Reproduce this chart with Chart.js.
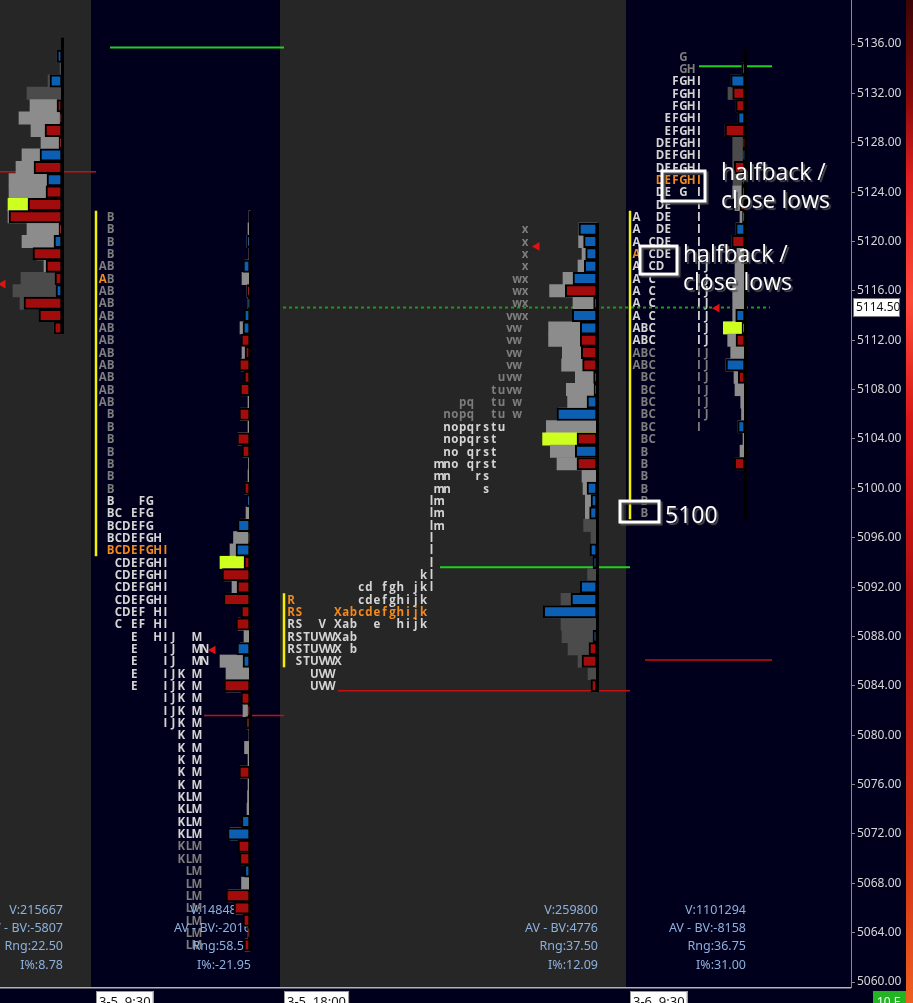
<!DOCTYPE html>
<html><head><meta charset="utf-8">
<script src="https://cdn.jsdelivr.net/npm/chart.js@4.4.1/dist/chart.umd.min.js"></script>
<style>html,body{margin:0;padding:0;background:#00001c;overflow:hidden}#wrap{width:913px;height:1003px}</style>
</head><body><div id="wrap"><canvas id="c" width="913" height="1003"></canvas></div>
<script>
// ================= DATA =================
const priceMin = 5059.6, priceMax = 5139.565, tickStep = 4;

// Session 1 (previous session – only its volume profile is visible)
const s1Top = 5135;
const s1Vol   = [5,2,14,35,32,43,31,21,40,46,53,53,54,54,35,40,25,18,41,49,42,20,8];
const s1Delta = [5,0,12,0,-5,-2,-17,-3,22,-28,15,-16,-34,-53,-3,8,-29,-16,-7,6,-38,-23,-8];
const s1Poc = 5123, s1VolVA = [5118, 5131], s1Range = [5113, 5136];
const s1Stats = ["V:215667", "AV - BV:-5807", "Rng:22.50", "I%:8.78"];

// Session 2 (3-5 9:30 RTH)
const s2Top = 5122;
const s2Letters = ["B","B","B","B","AB","AB","AB","AB","AB","AB","AB","AB","AB","AB","AB","AB",
  "B","B","B","B","B","B","B","BFG","BCEFG","BCDEFG","BCDEFGH","BCDEFGHI","CDEFGHI","CDEFGHI","CDEFGHI","CDEFGHI",
  "CDEFHI","CEFHI","EHIJM","EIJMN","EIJMN","EIJKM","EIJKM","IJKM","IJKM","IJKM","KM","KM","KM","KM","KM",
  "KLM","KLM","KLM","KLM","KLM","KLM","LM","LM","LM","LM","LM","LM","LM"];
const s2Periods = "ABCDEFGHIJKLMN";
const s2TpoVA = [5072, 5099], s2TpoPoc = 5095, s2Open = 5117, s2OpenLetter = "A";
const s2Vol   = [1,2,3,1,5,8,3,2,5,10,8,8,9,5,9,2,10,2,12,7,1.5,2,5,2,4,10,16.5,20,30,26,18,24,8,12,6,10,30,24,24,8,7,3,1,5.5,2,10,2,2.5,3,7,20,10,9,4,8.5,22,14,6,2,5];
const s2Delta = [0,0,3,0,7,0,-3,2,6,7,-9,-5,-11,-6,-10,0,-11,0,-13,-8,0,0,-6,3,0,12.5,-1.5,14,-6,-28,-13,-26.5,-9,-14,0,13,7,0,-26,-9,-2,-4,0,0,0,-11,0,0,0,8.5,22.5,-12,-10.5,5.5,0,-24,-16,-7,-2,-6];
const s2Poc = 5094, s2VolVA = [5063, 5122], s2Range = [5063, 5122];
const s2IB = [5094.5, 5122.5];
const s2Stats = ["V:1484834", "AV - BV:-2016", "Rng:58.50", "I%:-21.95"];

// Session 3 (3-5 18:00 overnight)
const s3Top = 5121;
const s3Letters = ["x","x","x","x","wx","wx","wx","vwx","vw","vw","vw","vw","uvw","tuvw","pqtuw","nopqtuw",
  "nopqrstu","nopqrst","noqrst","mnoqrst","mnrs","mns","lm","lm","lm","l","l","l","kl","cdfghjkl",
  "Rcdefghijk","RSXabcdefghijk","RSVXabehijk","RSTUVWXab","RSTUVWXb","STUVWX","UVW","UVW"];
const s3Periods = "RSTUVWXabcdefghijklmnopqrstuvwx";
const s3TpoVA = [5084, 5105], s3TpoPoc = 5090, s3Open = 5091, s3OpenLetter = "R";
const s3Vol   = [18,18.4,15,19,34,47.4,24,24.7,48.4,48.4,34.7,35.4,21.7,30.7,29.4,38,50.7,54.4,46.7,40,15,14,11.7,11.7,13.4,6,6,3.4,9.4,16.7,36,53.4,36,35,29,19,9,4];
const s3Delta = [18,13.4,11.3,12.7,24,-31.7,-3.4,24.7,16.7,-16.7,-15.7,-14.4,-3.4,-3,10,40,0,-20,21.7,-20,0,10,6,7.4,0,0,7,4,0,16.7,26,53.7,0,4,-8,-15,0,-6];
const s3Poc = 5104, s3VolVA = [5098, 5121], s3Range = [5084, 5121];
const s3IB = [5085.5, 5091.5];
const s3Stats = ["V:259800", "AV - BV:4776", "Rng:37.50", "I%:12.09"];

// Session 4 (3-6 9:30 RTH)
const s4Top = 5135;
const s4Letters = ["G","GH","FGHI","FGHI","FGHI","EFGHI","EFGHI","DEFGHI","DEFGHI","DEFGHI","DEFGHI","DEGI","DEI",
  "ADEI","ADEI","ACDEI","ACDEI","ACDIJ","ACIJ","ACIJ","ACIJ","ACIJ","ABCIJ","ABCIJ","ABCIJ","ABCIJ",
  "BCIJ","BCIJ","BCIJ","BCIJ","BCI","BC","B","B","B","B","B","B"];
const s4Periods = "ABCDEFGHIJ";
const s4TpoVA = [5112, 5133], s4TpoPoc = 5125, s4Open = 5119, s4OpenLetter = "A";
const s4Vol   = [0,3,14,17,9,7,20,12.3,12.3,12.3,12,12.3,10,5,9,13,8,10,10,12.3,12.3,12.3,21.7,17.3,14.3,19,11,10,4.3,3.5,7,2,5,10];
const s4Delta = [0,3.3,14.3,-12.3,-9.3,7.3,-20,-2,2,-10.7,-3,-3.3,-5,2.5,9.3,-13.3,0,0,0,0,0,9.3,3,-9,0,19,-6.7,0,0,0,7.3,0,0,-10.7];
const s4Poc = 5113, s4VolVA = [5103, 5124], s4Range = [5098, 5135];
const s4IB = [5097.5, 5122.5];
const s4Stats = ["V:1101294", "AV - BV:-8158", "Rng:36.75", "I%:31.00"];

// reference lines (price levels) and markers
const greenLevels = [5135.72, 5093.6, 5134.2];
const redLevels   = [5125.65, 5081.6, 5083.6, 5086.1];
const lastPrice   = 5114.5;
const markerPrices = [5116.55, 5086.9, 5119.6, 5114.6];
const timeLabels  = ["3-5  9:30", "3-5  18:00", "3-6  9:30"];

// ================= LAYOUT / STYLE =================
const NAVY = '#00001c', PANEL = '#262626';
const GRAY_L = '#8c8c8c', GRAY_D = '#4b4b4b', POCC = '#cdff1f', BLUE = '#0d5fb3', RED = '#a30c0c';
const DIM = '#7d7d7d', BRIGHT = '#d4d4d4', ORANGE = '#f28a1c';
const ROW = 12.34;
const panelEdges = [0, 91, 280, 626, 851];
const spines = [62, 250, 597, 745];
const sessionStarts = [96, 284, 630];
const greenSpans = [[110,284],[440,630],[699,772]];
const redSpans = [[0,96],[204,284],[338,630],[645,772]];
const markerXs = [3, 213, 537, 717];
const ibXs = [96, 284, 630];

const tpo = [
  {top:s2Top, rows:s2Letters, seq:s2Periods, x0:102.7, w:7.85, va:s2TpoVA, poc:s2TpoPoc, open:s2Open, openCh:s2OpenLetter},
  {top:s3Top, rows:s3Letters, seq:s3Periods, x0:291, w:7.8, va:s3TpoVA, poc:s3TpoPoc, open:s3Open, openCh:s3OpenLetter},
  {top:s4Top, rows:s4Letters, seq:s4Periods, x0:636.5, w:7.8, va:s4TpoVA, poc:s4TpoPoc, open:s4Open, openCh:s4OpenLetter}
];
const profiles = [
  {top:s1Top, vol:s1Vol, delta:s1Delta, poc:s1Poc, va:s1VolVA, range:s1Range, stats:s1Stats},
  {top:s2Top, vol:s2Vol, delta:s2Delta, poc:s2Poc, va:s2VolVA, range:s2Range, stats:s2Stats},
  {top:s3Top, vol:s3Vol, delta:s3Delta, poc:s3Poc, va:s3VolVA, range:s3Range, stats:s3Stats},
  {top:s4Top, vol:s4Vol, delta:s4Delta, poc:s4Poc, va:s4VolVA, range:s4Range, stats:s4Stats}
];
const ibs = [s2IB, s3IB, s4IB];

// ================= DATASETS =================
const datasets = [];
function lineDs(pts, color, width, order, dash) {
  return {type:'line', indexAxis:'x', data:pts, borderColor:color, borderWidth:width, borderDash:dash||[],
    pointRadius:0, fill:false, tension:0, order:order};
}
greenLevels.forEach((p,i)=>datasets.push(lineDs([{x:greenSpans[i][0],y:p},{x:greenSpans[i][1],y:p}], '#1fd01f', 2, 60)));
redLevels.forEach((p,i)=>datasets.push(lineDs([{x:redSpans[i][0],y:p},{x:redSpans[i][1],y:p}], '#c41010', 1.5, 60)));
datasets.push(lineDs([{x:283,y:lastPrice+0.15},{x:770,y:lastPrice+0.15}], '#1c9a1c', 2, 60, [3,3]));
ibs.forEach((r,i)=>datasets.push(lineDs([{x:ibXs[i],y:r[0]},{x:ibXs[i],y:r[1]}], '#f0f000', 2.5, 55)));

profiles.forEach((s,k)=>{
  const sp = spines[k];
  const g = [], gc = [], d = [], dc = [];
  s.vol.forEach((v,i)=>{
    const p = s.top - i;
    if (v > 0) { g.push({y:p, x:[sp - v, sp]}); gc.push(p===s.poc ? POCC : (p>=s.va[0] && p<=s.va[1] ? GRAY_L : GRAY_D)); }
    const dv = s.delta[i];
    if (dv !== 0) { d.push({y:p, x:[sp - Math.abs(dv), sp]}); dc.push(dv > 0 ? BLUE : RED); }
  });
  datasets.push({type:'bar', indexAxis:'y', grouped:false, data:g, backgroundColor:gc, borderWidth:0,
    barThickness:ROW, borderSkipped:false, order:40});
  datasets.push(lineDs([{x:sp+0.5,y:s.range[0]-0.5},{x:sp+0.5,y:s.range[1]+0.5}], '#000000', 3, 30));
  datasets.push({type:'bar', indexAxis:'y', grouped:false, data:d, backgroundColor:dc, borderColor:'#000000',
    borderWidth:2, barThickness:ROW, borderSkipped:false, order:20});
});
datasets.push({type:'line', indexAxis:'x', showLine:false, order:5,
  data: markerPrices.map((p,i)=>({x:markerXs[i], y:p})),
  pointStyle:'triangle', rotation:-90, pointRadius:5, pointBackgroundColor:'#e01212', pointBorderWidth:0});

// ================= DECORATION PLUGIN =================
const deco = {
  id:'deco',
  beforeDraw(chart) {
    const {ctx, chartArea:a, scales:{x}} = chart;
    ctx.save();
    ctx.fillStyle = NAVY; ctx.fillRect(0,0,chart.width,chart.height);
    for (let i=0;i<panelEdges.length-1;i++) {
      const x0 = x.getPixelForValue(panelEdges[i]), x1 = x.getPixelForValue(panelEdges[i+1]);
      ctx.fillStyle = i%2===0 ? PANEL : NAVY;
      ctx.fillRect(x0, a.top, x1-x0, a.bottom-a.top);
    }
    ctx.fillStyle = '#b4b4b4'; ctx.fillRect(0, a.bottom, a.right, 1.5);
    const gr = ctx.createLinearGradient(0,0,0,chart.height);
    gr.addColorStop(0,'#3a0505'); gr.addColorStop(0.1,'#8a0a0a'); gr.addColorStop(0.18,'#e02020');
    gr.addColorStop(0.3,'#ff4a3a'); gr.addColorStop(0.42,'#d81818'); gr.addColorStop(0.6,'#b01010');
    gr.addColorStop(0.85,'#d03015'); gr.addColorStop(1,'#f06020');
    ctx.fillStyle = gr; ctx.fillRect(906,0,7,chart.height);
    ctx.restore();
  },
  beforeDatasetsDraw(chart) {
    const {ctx, scales:{x,y}} = chart;
    ctx.save();
    ctx.font = 'bold 11.5px "Open Sans"';
    ctx.textAlign = 'center'; ctx.textBaseline = 'alphabetic';
    tpo.forEach(s=>{
      s.rows.forEach((row,i)=>{
        const p = s.top - i;
        const yy = y.getPixelForValue(p) + 4.2;
        for (const ch of row) {
          const k = s.seq.indexOf(ch);
          let col = p===s.poc ? ORANGE : (p>=s.va[0] && p<=s.va[1] ? BRIGHT : DIM);
          if (p===s.open && ch===s.openCh) col = ORANGE;
          ctx.fillStyle = col;
          ctx.fillText(ch, x.getPixelForValue(s.x0 + k*s.w), yy);
        }
      });
    });
    ctx.font = '12.5px "Noto Sans"'; ctx.textAlign = 'right'; ctx.fillStyle = '#8cb0dc';
    const base = chart.chartArea.bottom;
    profiles.forEach((s,k)=>{
      s.stats.forEach((t,j)=> ctx.fillText(t, x.getPixelForValue(spines[k]+1), base - 73 + j*18.2));
    });
    ctx.restore();
  },
  afterDatasetsDraw(chart) {
    const {ctx, chartArea:a, scales:{x,y}} = chart;
    ctx.save();
    // annotation boxes
    ctx.shadowColor = 'rgba(80,80,80,0.95)'; ctx.shadowOffsetX = 2; ctx.shadowOffsetY = 2; ctx.shadowBlur = 1;
    ctx.strokeStyle = '#ffffff'; ctx.lineWidth = 3;
    [[662,705,5125.71,5123.28],[640,677,5119.63,5117.36],[620,659,5098.97,5097.27]].forEach(b=>{
      const x0=x.getPixelForValue(b[0]), x1=x.getPixelForValue(b[1]), y0=y.getPixelForValue(b[2]), y1=y.getPixelForValue(b[3]);
      ctx.strokeRect(x0,y0,x1-x0,y1-y0);
    });
    ctx.font = '23px "Open Sans"'; ctx.fillStyle = '#ffffff'; ctx.textAlign = 'left'; ctx.textBaseline = 'alphabetic';
    [["halfback /",721,5124.98],["close lows",721,5122.71],["halfback /",683,5118.30],["close lows",683,5116.03],["5100",665,5097.2]].forEach(t=>{
      ctx.fillText(t[0], x.getPixelForValue(t[1]), y.getPixelForValue(t[2]));
    });
    ctx.restore();
    ctx.save();
    // last price tag
    const py = y.getPixelForValue(lastPrice+0.15);
    ctx.fillStyle = '#ffffff'; ctx.fillRect(a.right+2, py-9.5, 47, 19);
    ctx.strokeStyle = '#777'; ctx.lineWidth = 1; ctx.strokeRect(a.right+2.5, py-9, 46, 18);
    ctx.fillStyle = '#111'; ctx.font = '12px "Noto Sans"'; ctx.textAlign='left'; ctx.textBaseline='middle';
    ctx.fillText(lastPrice.toFixed(2), a.right+5, py+0.5);
    // time labels
    ctx.font = '13px "Noto Sans"'; ctx.textBaseline = 'alphabetic';
    timeLabels.forEach((t,i)=>{
      const xx = x.getPixelForValue(sessionStarts[i]);
      const w = ctx.measureText(t).width + 6;
      ctx.fillStyle = '#ffffff'; ctx.fillRect(xx, a.bottom+4, w, 20);
      ctx.strokeStyle = '#999'; ctx.strokeRect(xx+0.5, a.bottom+4.5, w-1, 20);
      ctx.fillStyle = '#111'; ctx.fillText(t, xx+3, a.bottom+19);
    });
    ctx.fillStyle = '#22b422'; ctx.fillRect(873, a.bottom+4, 33, 20);
    ctx.fillStyle = '#ffffff'; ctx.font = '12px "Noto Sans"'; ctx.fillText('10 E', 877, a.bottom+19);
    ctx.restore();
  }
};

// ================= CHART =================
new Chart(document.getElementById('c'), {
  type:'bar',
  data:{datasets},
  options:{
    responsive:false, animation:false, devicePixelRatio:1, events:[],
    indexAxis:'y',
    layout:{autoPadding:false, padding:{left:0, top:0, right:0, bottom:16}},
    plugins:{legend:{display:false}, tooltip:{enabled:false}},
    scales:{
      x:{type:'linear', min:0, max:851, display:false, offset:false},
      y:{type:'linear', position:'right', min:priceMin, max:priceMax, offset:false,
        grid:{offset:false, drawOnChartArea:false, drawTicks:true, tickLength:4, color:'#8a8a8a'},
        border:{display:true, color:'#8a8a8a', width:1},
        ticks:{stepSize:tickStep, includeBounds:false, autoSkip:false, color:'#d6d6d6', padding:2,
          font:{family:'"Noto Sans"', size:12}, callback:v=>Number(v).toFixed(2)},
        afterFit(s){ s.width = 62; s.paddingTop = 0; s.paddingBottom = 0; }
      }
    }
  },
  plugins:[deco]
});
</script></body></html>
